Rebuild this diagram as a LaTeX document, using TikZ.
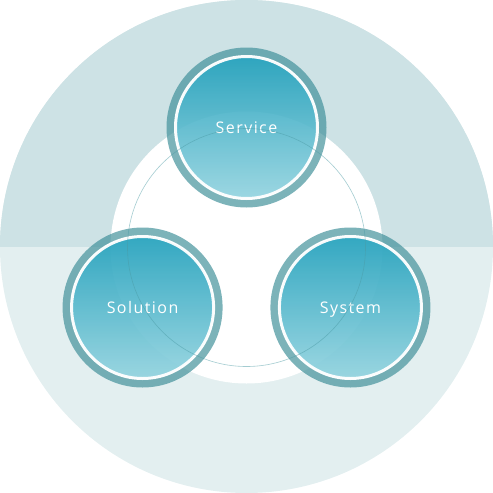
\documentclass[tikz,border=0pt]{standalone}
\usepackage{fontspec}
\usepackage{xcolor}
\usepackage{tikz}
\usetikzlibrary{positioning}
\newfontfamily\labelfont[LetterSpace=9]{Open Sans}
\definecolor{bghigh}{HTML}{CDE2E5}
\definecolor{bglow}{HTML}{E3EFF0}
\definecolor{ringteal}{HTML}{3E8F99}
\definecolor{coretop}{HTML}{1E9FBB}
\definecolor{corebot}{HTML}{92D3DF}
\definecolor{orbitteal}{HTML}{4A9AA4}
\tikzset{
	hub/.style = {
			circle,
			fill      = white,
			minimum size = 272pt,
			inner sep = 0pt,
		},
	ring/.style = {
			circle,
			draw         = ringteal,
			draw opacity = 0.68,
			line width   = 8pt,
			minimum size = 152pt,
			inner sep    = 0pt,
		},
	core/.style = {
			circle,
			draw         = white,
			line width   = 3pt,
			minimum size = 142pt,
			inner sep    = 0pt,
			text height  = 11.5pt,
			text depth   = 0pt,
			top color    = coretop,
			bottom color = corebot,
			fill opacity = 0.9,
			draw opacity = 0.95,
			text opacity = 1,
			text         = white,
			font         = \labelfont\fontsize{16}{19}\selectfont
		},
	orbit/.style = {
			circle,
			draw         = orbitteal,
			draw opacity = 0.5,
			line width   = 0.6pt,
			minimum size = 238pt,
			inner sep    = 0pt,
		}
}
\begin{document}
\begin{tikzpicture}[x=1pt,y=-1pt]
    \useasboundingbox (0,0) rectangle (493,493);

    % background disc, darker upper half
    \coordinate (mid) at (246.5,246.5);
    \fill[bglow] (mid) circle (246.5pt);
    \begin{scope}
      \clip (0,0) rectangle (493,246.5);
      \fill[bghigh] (mid) circle (246.5pt);
    \end{scope}

    \node[hub] at (246.5,247.5) (hub) {};

    \node[ring] at ([shift={(90:120pt)}]hub.center) (service) {};
    \node[core] at (service) (servicecore) {Service};

    \node[ring] at ([shift={(210:120pt)}]hub.center) (solution) {};
    \node[core] at (solution) (solutioncore) {Solution};

    \node[ring] at ([shift={(330:120pt)}]hub.center) (system) {};
    \node[core] at (system) (systemcore) {System};

    \node[orbit] at (hub) (track) {};
  \end{tikzpicture}
\end{document}
